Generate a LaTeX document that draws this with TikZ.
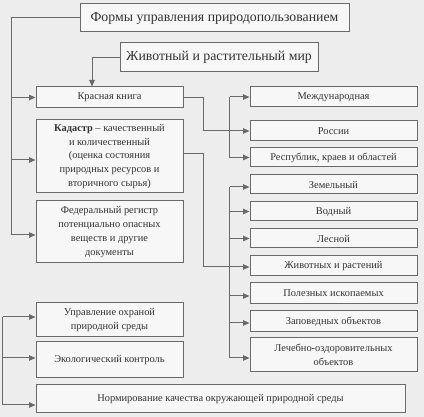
\documentclass[tikz,border=0pt]{standalone}
\usepackage{fontspec}
\setmainfont{Liberation Serif}
\usetikzlibrary{arrows.meta}
\definecolor{bg}{HTML}{EDEDED}
\definecolor{boxfill}{HTML}{F7F7F7}
\definecolor{ln}{HTML}{6A6A6A}
\definecolor{txt}{HTML}{333333}
\tikzset{
  box/.style={draw=ln, line width=1pt, fill=boxfill, text=txt, inner sep=1pt, align=center,
    font=\fontsize{10.4}{13.8}\selectfont},
  bigbox/.style={box, font=\fontsize{13.8}{15}\selectfont},
  lbox/.style={box, minimum width=147pt},
  rbox/.style={box, minimum width=167pt},
  arr/.style={draw=ln, line width=1pt, -{Triangle[length=6.5pt,width=5.5pt]}}
}
\begin{document}
\begin{tikzpicture}[x=1pt,y=-1pt]
\fill[bg] (0,0) rectangle (424,417);
\useasboundingbox (0,0) rectangle (424,417);
% top boxes
\node[bigbox, minimum width=269pt, minimum height=28pt] (forms) at (214.5,18) {Формы управления природопользованием};
\node[bigbox, minimum width=198pt, minimum height=29pt] (animal) at (219,57.5) {Животный и растительный мир};
% left column
\node[lbox, minimum height=21pt] (red) at (109.5,97.5) {Красная книга};
\node[lbox, minimum height=73pt] (cad) at (109.5,156.5) {\textbf{Кадастр} – качественный\\и количественный\\(оценка состояния\\природных ресурсов и\\вторичного сырья)};
\node[lbox, minimum height=62pt] (fed) at (109.5,232) {Федеральный регистр\\потенциально опасных\\веществ и другие\\документы};
\node[lbox, minimum height=34pt] (mgmt) at (109.5,320) {Управление охраной\\природной среды};
\node[lbox, minimum height=36pt] (eco) at (109.5,360) {Экологический контроль};
\node[box, minimum width=369pt, minimum height=28pt] (norm) at (220.5,399) {Нормирование качества окружающей природной среды};
% right column
\node[rbox, minimum height=20pt] (intl) at (333.5,97) {Международная};
\node[rbox, minimum height=20pt] (rus) at (333.5,131) {России};
\node[rbox, minimum height=19pt] (rep) at (333.5,157.5) {Республик, краев и областей};
\node[rbox, minimum height=19pt] (land) at (333.5,184.5) {Земельный};
\node[rbox, minimum height=19pt] (water) at (333.5,211.5) {Водный};
\node[rbox, minimum height=19pt] (forest) at (333.5,238.5) {Лесной};
\node[rbox, minimum height=20pt] (fauna) at (333.5,266) {Животных и растений};
\node[rbox, minimum height=21pt] (mineral) at (333.5,293.5) {Полезных ископаемых};
\node[rbox, minimum height=21pt] (reserve) at (333.5,321.5) {Заповедных объектов};
\node[rbox, minimum height=34pt] (health) at (333.5,355) {Лечебно-оздоровительных\\объектов};
% main trunk on the left
\draw[arr] (forms.west) -| ([xshift=-24pt,yshift=-3pt]fed.west) -- ([yshift=-3pt]fed.west);
\draw[arr] ([xshift=-24pt]red.west) -- (red.west);
\draw[arr] ([xshift=-24pt,yshift=-3.5pt]cad.west) -- ([yshift=-3.5pt]cad.west);
% animal -> red book
\draw[arr] (animal.west) -| ([xshift=-17.5pt]red.north);
% red book -> Russia
\draw[arr] (red.east) -- ++(20,0) |- (rus.west);
\draw[arr] ([xshift=-20pt]intl.west) -- (intl.west);
\draw[arr] ([xshift=-20pt]intl.west) |- (rep.west);
% cadastre -> fauna
\draw[arr] ([yshift=2.5pt]cad.east) -- ++(20,0) |- ([yshift=-1pt]fauna.west);
% cadastre types trunk
\draw[arr] ([xshift=-20pt,yshift=-2.5pt]land.west) -- ([yshift=-2.5pt]land.west);
\draw[arr] ([xshift=-20pt]water.west) -- (water.west);
\draw[arr] ([xshift=-20pt]forest.west) -- (forest.west);
\draw[arr] ([xshift=-20pt,yshift=-2.5pt]mineral.west) -- ([yshift=-2.5pt]mineral.west);
\draw[arr] ([xshift=-20pt,yshift=-1.5pt]reserve.west) -- ([yshift=-1.5pt]reserve.west);
\draw[arr] ([xshift=-20pt,yshift=-2.5pt]land.west) |- ([yshift=-3pt]health.west);
% bottom-left trunk
\draw[arr] ([xshift=-33pt,yshift=3pt]mgmt.west) -- ([yshift=3pt]mgmt.west);
\draw[arr] ([xshift=-33pt,yshift=2pt]eco.west) -- ([yshift=2pt]eco.west);
\draw[arr] ([xshift=-33pt,yshift=3pt]mgmt.west) |- ([yshift=-6pt]norm.west);
\end{tikzpicture}
\end{document}
